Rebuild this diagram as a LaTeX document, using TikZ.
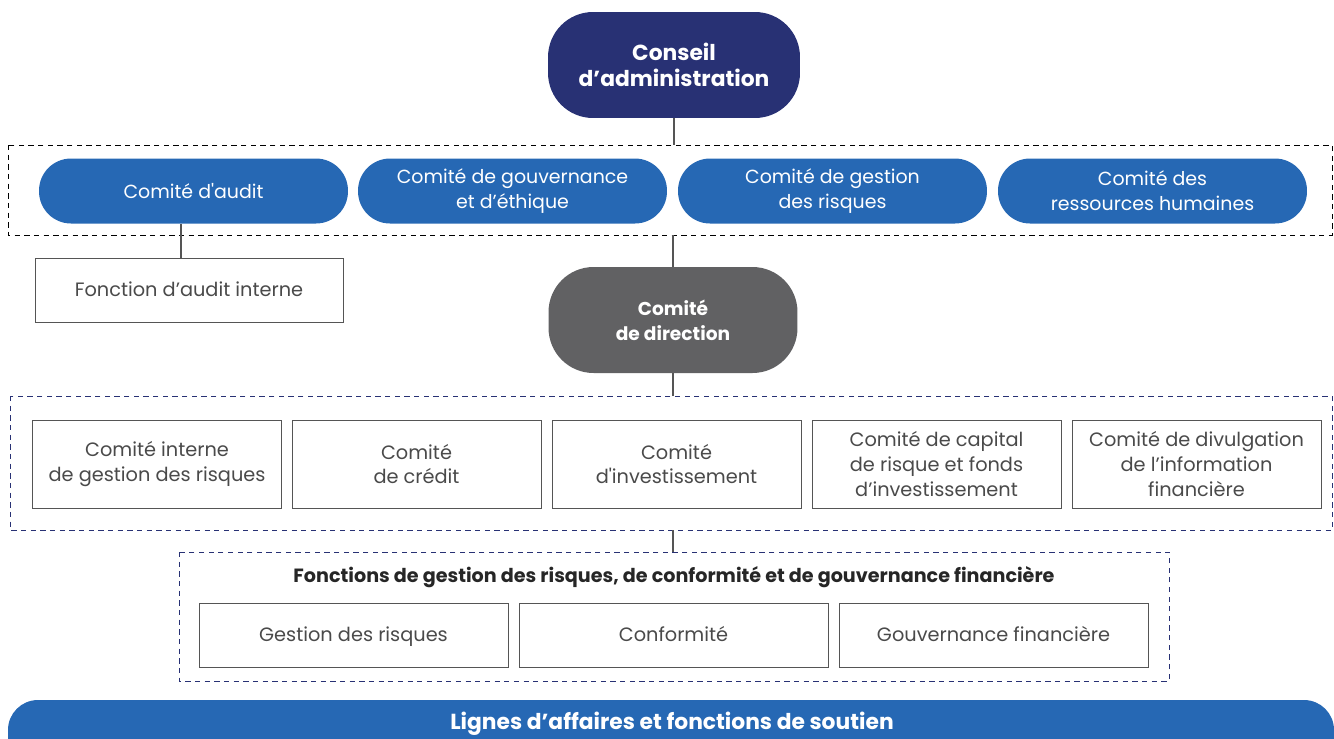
\documentclass[tikz,border=0pt]{standalone}
\usepackage{fontspec}
\setmainfont{Poppins}[Ligatures=TeXOff]
\usepackage{tikz}
\usetikzlibrary{arrows,shapes}
\usetikzlibrary{positioning,fit}
\definecolor{navy}{HTML}{283174}
\definecolor{comblue}{HTML}{2668B4}
\definecolor{dirgrey}{HTML}{616163}
\definecolor{boxline}{HTML}{555555}
\definecolor{boxtext}{HTML}{4A4A4A}
\tikzstyle{board} = [fill=navy, text=white, font=\fontsize{12.4}{14.4}\selectfont\bfseries,
    align=center, rounded corners=0.9cm, minimum width=5.04cm, minimum height=2.12cm]
\tikzstyle{pill} = [fill=comblue, text=white, font=\fontsize{10.8}{14.2}\selectfont,
    align=center, rounded corners=0.64cm, minimum width=6.18cm, minimum height=1.3cm]
\tikzstyle{exec} = [fill=dirgrey, text=white, font=\fontsize{10.6}{14.2}\selectfont\bfseries,
    align=center, rounded corners=0.9cm, minimum width=4.98cm, minimum height=2.12cm]
\tikzstyle{unit} = [draw=boxline, fill=white, text=boxtext, font=\fontsize{11}{14}\selectfont,
    align=center, minimum height=1.76cm, minimum width=4.98cm]
\tikzstyle{flat} = [unit, minimum width=6.18cm, minimum height=1.28cm,
    text height=1.9ex, text depth=0.55ex]
\tikzstyle{group} = [draw, dashed, dash pattern=on 3pt off 2.5pt]
\tikzstyle{link} = [draw=boxline, thick]

\begin{document}
\begin{tikzpicture}[x=0.02cm, y=-0.02cm]
  \clip (0,0) rectangle (1334,738);
  \useasboundingbox (0,0) rectangle (1334,738);
  % Dashed groups
  \draw [group, black] (8,145) rectangle (1332,235);
  \draw [group, navy] (10,396) rectangle (1332,530);
  \draw [group, navy] (179,552) rectangle (1169,681);
  % Place nodes
  \node [board] (ca) at (674,65) {Conseil\\d’administration};
  \node [pill] (audit) at (193.5,191) {Comité d'audit};
  \node [pill] (gouv) at (512.5,191) {Comité de gouvernance\\et d’éthique};
  \node [pill] (risk) at (832.5,191) {Comité de gestion\\des risques};
  \node [pill] (rh) at (1152.5,191) {Comité des\\ressources humaines};
  \node [flat, minimum width=6.16cm] (fai) at (189,290) {Fonction d’audit interne};
  \node [exec] (cd) at (673,320) {Comité\\de direction};
  \node [unit] (cigr) at (157,464) {Comité interne\\de gestion des risques};
  \node [unit] (cred) at (416.5,464) {Comité\\de crédit};
  \node [unit] (inv) at (676.5,464) {Comité\\d'investissement};
  \node [unit] (capr) at (936.5,464) {Comité de capital\\de risque et fonds\\d’investissement};
  \node [unit] (divf) at (1196.5,464) {Comité de divulgation\\de l’information\\financière};
  \node [text=black!85, font=\fontsize{10.9}{12}\selectfont\bfseries] (fgt) at (674,577)
  {Fonctions de gestion des risques, de conformité et de gouvernance financière};
  \node [flat] (gr) at (353.5,635) {Gestion des risques};
  \node [flat] (conf) at (673.5,635) {Conformité};
  \node [flat] (gf) at (993.5,635) {Gouvernance financière};
  \fill [comblue, rounded corners=0.6cm] (8,700) rectangle (1334,770);
  \node [text=white, font=\fontsize{12.4}{14}\selectfont\bfseries] (lig) at (672,724)
  {Lignes d’affaires et fonctions de soutien};
  % Connectors
  \coordinate (k1) at (674,145);
  \coordinate (k2) at (673,235);
  \coordinate (k3) at (673,396);
  \coordinate (k4) at (673,530);
  \coordinate (k5) at (673,552);
  \draw [link] (ca) -- (k1);
  \draw [link] (k2) -- (cd);
  \draw [link] (cd) -- (k3);
  \draw [link] (k4) -- (k5);
  \draw [link] (audit.south -| 181,0) -- (fai.north -| 181,0);
\end{tikzpicture}
\end{document}
